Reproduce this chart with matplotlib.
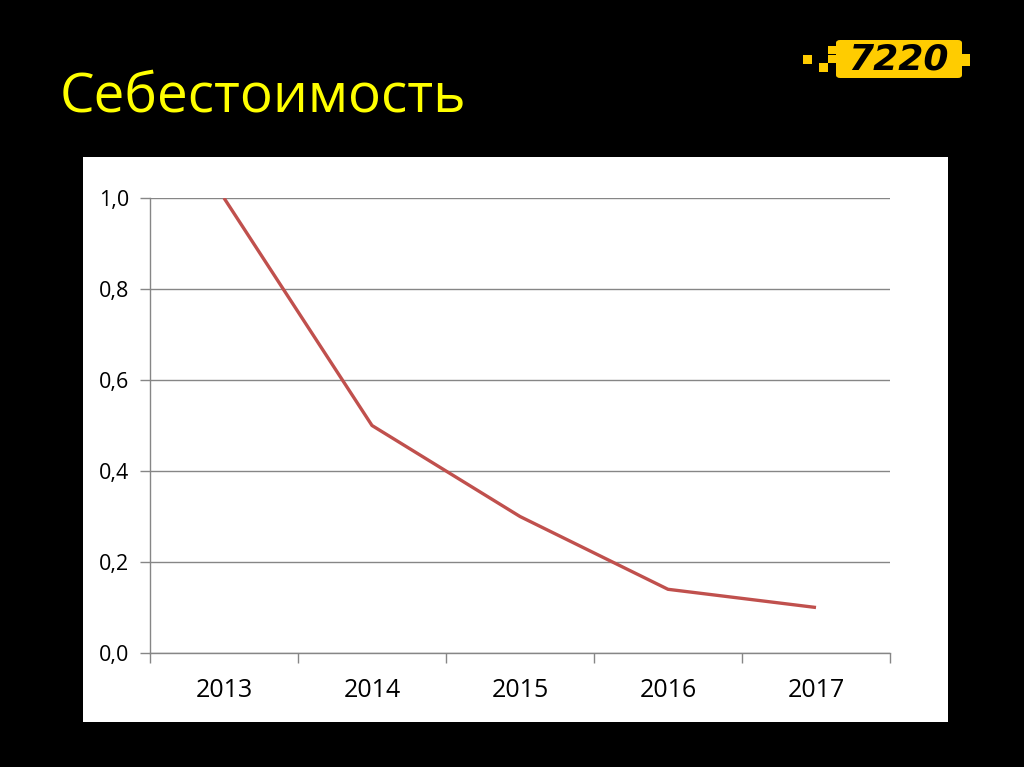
import matplotlib
matplotlib.use("Agg")
import matplotlib.pyplot as plt
from matplotlib.patches import Rectangle, FancyBboxPatch
import numpy as np

years = ["2013", "2014", "2015", "2016", "2017"]
values = [1.0, 0.5, 0.3, 0.14, 0.10]
yticks = [0.0, 0.2, 0.4, 0.6, 0.8, 1.0]
ytick_labels = ["0,0", "0,2", "0,4", "0,6", "0,8", "1,0"]
title = "Себестоимость"

W, H = 1024, 767
fig = plt.figure(figsize=(W / 100, H / 100), dpi=100, facecolor="black")

def fx(px):
    return px / W

def fy(py):
    return 1 - py / H

# white chart area
fig.patches.append(Rectangle((fx(83), fy(722)), fx(865), 565 / H,
                             transform=fig.transFigure, facecolor="white",
                             edgecolor="none", zorder=-5))

# title
fig.text(fx(60), fy(97), title, color="#FFFF00", fontsize=39.5,
         family="Open Sans", va="center", ha="left")

# logo
yellow = "#FFCC00"
fig.patches.append(FancyBboxPatch((fx(836), fy(78)), fx(126), 38 / H,
                                  boxstyle="round,pad=0,rounding_size=0.004",
                                  transform=fig.transFigure, facecolor=yellow,
                                  edgecolor="none", zorder=-4))
fig.patches.append(Rectangle((fx(962), fy(66)), fx(8), 12 / H,
                             transform=fig.transFigure, facecolor=yellow,
                             edgecolor="none", zorder=-4))
for (x0, y0, s) in [(803, 55, 9), (819, 63, 9), (828, 55, 8), (828, 46, 8)]:
    fig.patches.append(Rectangle((fx(x0), fy(y0 + s)), fx(s), s / H,
                                 transform=fig.transFigure, facecolor=yellow,
                                 edgecolor="none", zorder=-4))
fig.text(fx(898), fy(60), "7220", color="black", fontsize=26, fontweight="heavy",
         fontstyle="italic", family="DejaVu Sans", ha="center", va="center")

ax = fig.add_axes([fx(150), 114 / H, fx(740), 455 / H])
ax.set_facecolor("white")
x = np.arange(len(years)) + 0.5
ax.plot(x, values, color="#C0504D", linewidth=2.4, solid_capstyle="butt", zorder=3)

ax.set_xlim(0, len(years))
ax.set_ylim(0, 1.0)
ax.set_yticks(yticks)
ax.set_yticklabels(ytick_labels, family="Open Sans", fontsize=15.5)
ax.set_xticks(np.arange(len(years) + 1))
ax.set_xticklabels([])
ax.set_xticks(x, minor=True)
ax.set_xticklabels(years, minor=True, family="Open Sans", fontsize=18)
ax.tick_params(axis="x", which="minor", length=0, pad=18)
ax.tick_params(axis="x", which="major", length=7, color="#868686", width=1)
ax.tick_params(axis="y", length=7, color="#868686", width=1, pad=8)
ax.yaxis.grid(True, color="#868686", linewidth=1)
ax.set_axisbelow(True)
for s in ["top", "right"]:
    ax.spines[s].set_visible(False)
for s in ["left", "bottom"]:
    ax.spines[s].set_color("#868686")
    ax.spines[s].set_linewidth(1)

fig.savefig("out.png", dpi=100, facecolor="black")
